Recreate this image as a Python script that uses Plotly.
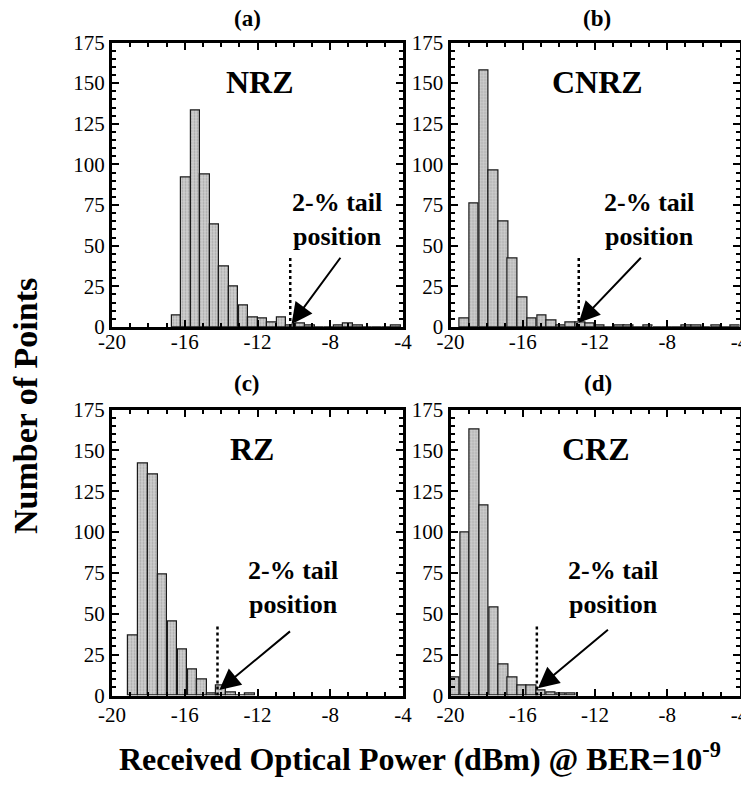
import plotly.graph_objects as go

# ---------------- data ----------------
panel_labels = ["(a)", "(b)", "(c)", "(d)"]
formats = ["NRZ", "CNRZ", "RZ", "CRZ"]

x_ticks = [-20, -16, -12, -8, -4]
x_tick_text = ["-20", "-16", "-12", "-8", "-4"]
y_ticks = [0, 25, 50, 75, 100, 125, 150, 175]

nrz_power = [-16.46, -15.93, -15.41, -14.88, -14.36, -13.83, -13.31, -12.78, -12.26, -11.73,
             -11.21, -10.68, -10.16, -9.63, -9.11, -8.58, -8.06, -7.53, -7.01, -6.48,
             -5.96, -5.43, -4.91, -4.38]
nrz_count = [7, 92, 133, 94, 63, 37, 25, 13, 6, 5,
             3, 6, 1, 2, 1, 0, 0, 1, 2, 1,
             0, 0, 0, 1]

cnrz_power = [-19.22, -18.69, -18.15, -17.62, -17.08, -16.55, -16.01, -15.48, -14.94, -14.41,
              -13.87, -13.34, -12.80, -12.27, -11.73, -11.20, -10.66, -10.13, -9.59, -9.06,
              -8.52, -7.99, -7.45, -6.92, -6.38, -5.85, -5.31, -4.78, -4.24]
cnrz_count = [5, 76, 158, 96, 65, 42, 18, 5, 7, 4,
              1, 3, 3, 2, 1, 0, 1, 1, 0, 1,
              0, 0, 0, 1, 1, 0, 1, 0, 1]

rz_power = [-18.83, -18.28, -17.75, -17.22, -16.67, -16.12, -15.57, -15.05, -14.53, -14.00,
            -13.47, -12.92, -12.40]
rz_count = [37, 142, 135, 74, 45, 28, 16, 10, 1, 6, 2, 0, 1]

crz_power = [-19.74, -19.20, -18.67, -18.14, -17.59, -17.06, -16.56, -16.04, -15.51, -14.98,
             -14.43, -13.88, -13.33]
crz_count = [11, 100, 163, 116, 54, 19, 11, 6, 6, 3, 2, 1, 1]

# 2-% tail position (dBm) for each format
tail_pos = [-10.2, -12.9, -14.2, -15.22]

powers = [nrz_power, cnrz_power, rz_power, crz_power]
counts = [nrz_count, cnrz_count, rz_count, crz_count]

# ---------------- layout geometry ----------------
W, H = 741, 785
xdom_px = [(112, 403), (450.5, 739.5), (112, 403), (450.5, 739.5)]
ydom_px = [(42.5, 327), (42.5, 327), (409.5, 695.5), (409.5, 695.5)]
bar_width = [0.525, 0.535, 0.53, 0.53]
xlabel_standoff = [-6, -6, -2, -2]

# label/arrow positions in data coords
format_pos = [(-11.87, 151), (-11.87, 151), (-12.3, 151), (-11.95, 151)]
tail_text_pos = [(-7.65, 66), (-9.0, 66), (-10.04, 66), (-11.03, 66)]
arrow_tail = [(-7.38, 43.5), (-9.38, 43.5), (-10.13, 40), (-11.2, 41)]
arrow_head = [(-10.13, 1.7), (-12.9, 2.6), (-14.1, 3.4), (-15.16, 4.4)]
title_px = [(247, 19), (597, 19), (247, 383), (598, 383)]

FONT = "Liberation Serif"

fig = go.Figure()
annotations = []
shapes = []

for i in range(4):
    sfx = "" if i == 0 else str(i + 1)
    xa, ya = "x" + sfx, "y" + sfx
    fig.add_trace(go.Bar(
        x=powers[i], y=counts[i], width=bar_width[i],
        xaxis=xa, yaxis=ya,
        marker=dict(color="#c2c2c2",
                    line=dict(color="#1a1a1a", width=1.2),
                    pattern=dict(shape=".", size=3, solidity=0.35,
                                 fgcolor="#808080", bgcolor="#cfcfcf")),
        showlegend=False,
    ))
    x0, x1 = xdom_px[i]
    y0, y1 = ydom_px[i]
    common_x = dict(
        domain=[x0 / W, x1 / W], range=[-20, -4], anchor=ya, automargin=False,
        tickmode="array", tickvals=x_ticks, ticktext=x_tick_text,
        ticks="inside", ticklen=7, tickwidth=2, tickcolor="black",
        minor=dict(dtick=1, tick0=-20, ticks="inside", ticklen=4, tickwidth=1.5, tickcolor="black"),
        showline=True, linewidth=3, linecolor="black", mirror="allticks",
        showgrid=False, zeroline=False, ticklabeloverflow="allow",
        ticklabelstandoff=xlabel_standoff[i],
        tickfont=dict(family=FONT, size=21, color="black"),
    )
    common_y = dict(
        domain=[1 - y1 / H, 1 - y0 / H], range=[0, 175], anchor=xa, automargin=False,
        tickmode="array", tickvals=y_ticks,
        ticks="inside", ticklen=7, tickwidth=2, tickcolor="black",
        minor=dict(dtick=5, tick0=0, ticks="inside", ticklen=4, tickwidth=1.5, tickcolor="black"),
        showline=True, linewidth=3, linecolor="black", mirror="allticks",
        showgrid=False, zeroline=False, ticklabeloverflow="allow",
        tickfont=dict(family=FONT, size=21, color="black"),
    )
    fig.update_layout(**{("xaxis" + sfx): common_x, ("yaxis" + sfx): common_y})

    # panel title
    tx, ty = title_px[i]
    annotations.append(dict(x=tx / W, y=1 - ty / H, xref="paper", yref="paper",
                            text="<b>" + panel_labels[i] + "</b>", showarrow=False,
                            font=dict(family=FONT, size=23, color="black"),
                            xanchor="center", yanchor="middle"))
    # format label
    fx, fy = format_pos[i]
    annotations.append(dict(x=fx, y=fy, xref=xa, yref=ya,
                            text="<b>" + formats[i] + "</b>", showarrow=False,
                            font=dict(family=FONT, size=32, color="black"),
                            xanchor="center", yanchor="middle"))
    # tail text
    px_, py_ = tail_text_pos[i]
    annotations.append(dict(x=px_, y=py_, xref=xa, yref=ya,
                            text="<b>2-% tail<br>position</b>", showarrow=False,
                            font=dict(family=FONT, size=26, color="black"),
                            xanchor="center", yanchor="middle", align="center"))
    # arrow
    hx, hy = arrow_head[i]
    ax_, ay_ = arrow_tail[i]
    annotations.append(dict(x=hx, y=hy, xref=xa, yref=ya, ax=ax_, ay=ay_,
                            axref=xa, ayref=ya, text="", showarrow=True,
                            arrowhead=2, arrowsize=2.1, arrowwidth=2,
                            arrowcolor="black", standoff=0))
    # dotted marker line
    shapes.append(dict(type="line", xref=xa, yref=ya, x0=tail_pos[i], x1=tail_pos[i],
                       y0=0, y1=44, line=dict(color="black", width=2.5, dash="dot")))

# axis titles
annotations.append(dict(x=420 / W, y=1 - 757 / H, xref="paper", yref="paper",
                        text="<b>Received Optical Power (dBm) @ BER=10<sup>-9</sup></b>",
                        showarrow=False, font=dict(family=FONT, size=32, color="black"),
                        xanchor="center", yanchor="middle"))
annotations.append(dict(x=25 / W, y=1 - 406 / H, xref="paper", yref="paper",
                        text="<b>Number of Points</b>", textangle=-90,
                        showarrow=False, font=dict(family=FONT, size=34, color="black"),
                        xanchor="center", yanchor="middle"))

fig.update_layout(
    width=W, height=H, autosize=False,
    margin=dict(l=0, r=0, t=0, b=0, pad=0, autoexpand=False),
    paper_bgcolor="white", plot_bgcolor="white",
    annotations=annotations, shapes=shapes,
    bargap=0,
)

fig.write_html("out.html", config={"responsive": False})
